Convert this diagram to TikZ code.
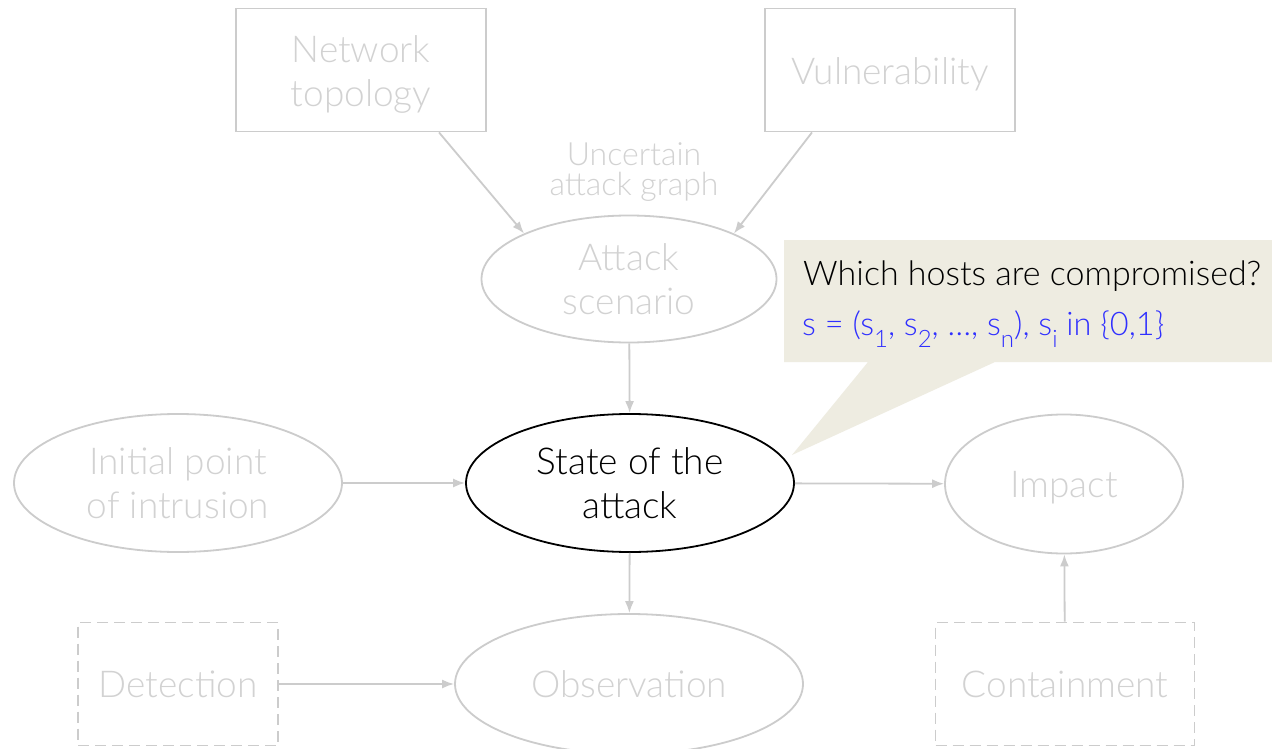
\documentclass[tikz,border=0pt]{standalone}
\usepackage{fontspec}
\setmainfont{Lato Light}
\usetikzlibrary{shapes.geometric,arrows.meta}
\definecolor{faint}{HTML}{CCCCCC}
\definecolor{fainttext}{HTML}{D2D2D2}
\definecolor{calloutbg}{HTML}{EEECE1}
\definecolor{mathblue}{HTML}{2F2FFF}
\newcommand{\sub}[1]{\raisebox{-12pt}{\fontsize{24}{24}\selectfont #1}}
\begin{document}
\begin{tikzpicture}[x=1pt,y=-1pt,
  big/.style={font=\fontsize{37}{44}\selectfont, align=center},
  faintnode/.style={big, draw=faint, line width=1.8pt, text=fainttext, inner sep=0pt},
  box/.style={faintnode, rectangle},
  dbox/.style={faintnode, rectangle, dash pattern=on 11pt off 6pt},
  oval/.style={faintnode, ellipse},
  caption/.style={big, text=fainttext, inner sep=0pt},
  link/.style={draw=faint, line width=1.8pt, -{Latex[length=12pt,width=9pt]}},
]
\clip (0,0) rectangle (1272,749);
\fill[white] (0,0) rectangle (1272,749);

% callout bubble with its pointer
\fill[calloutbg] (784,240) -- (1272,240) -- (1272,362) -- (995,362)
  -- (792,455) -- (868,362) -- (784,362) -- cycle;
\node[anchor=base west, inner sep=0pt, font=\fontsize{34}{34}\selectfont, text=black]
  (q) at (803,285) {Which hosts are compromised?};
\node[anchor=base west, inner sep=0pt, font=\fontsize{32.5}{33}\selectfont, text=mathblue]
  (s) at (802,335) {s = (s\sub{1}, s\sub{2}, \dots, s\sub{n}), s\sub{i} in \{0,1\}};

% sources
\node[box, minimum width=250pt, minimum height=123pt] (net) at (361,70) {};
\node[caption] (netlbl) at (361,74) {Network\\topology};
\node[box, minimum width=250pt, minimum height=123pt] (vul) at (890,70) {};
\node[caption] (vullbl) at (890,74) {Vulnerability};
\node[text=fainttext, font=\fontsize{32}{30}\selectfont, align=center] (uag) at (634,172)
  {Uncertain\\attack graph};

% attack chain
\node[oval, minimum width=295pt, minimum height=127pt] (scen) at (629,279) {Attack\\scenario};
\node[oval, minimum width=328pt, minimum height=138pt, draw=black, text=black] (state) at (630,483)
  {State of the\\attack};
\node[oval, minimum width=328pt, minimum height=138pt] (init) at (178,483) {Initial point\\of intrusion};
\node[oval, minimum width=238pt, minimum height=139pt] (imp) at (1064,484) {};
\node[caption] (implbl) at (1064,488) {Impact};
\node[oval, minimum width=348pt, minimum height=140pt] (obs) at (629,684) {Observation};
\node[dbox, minimum width=200pt, minimum height=123pt] (det) at (178,684) {Detection};
\node[dbox, minimum width=259pt, minimum height=123pt] (con) at (1065,684) {Containment};

% connectors
\draw[link] (net.south) ++(78,0) coordinate (n1) (n1) -- (scen.north west) ;
\draw[link] (vul.south) ++(-78,0) coordinate (v1) (v1) -- (scen.north east);
\draw[link] (scen) -- (state);
\draw[link] (init) -- (state);
\draw[link] (state) -- (imp);
\draw[link] (state) -- (obs);
\draw[link] (det) -- (obs);
\draw[link] (con) -- (imp);
\end{tikzpicture}
\end{document}
